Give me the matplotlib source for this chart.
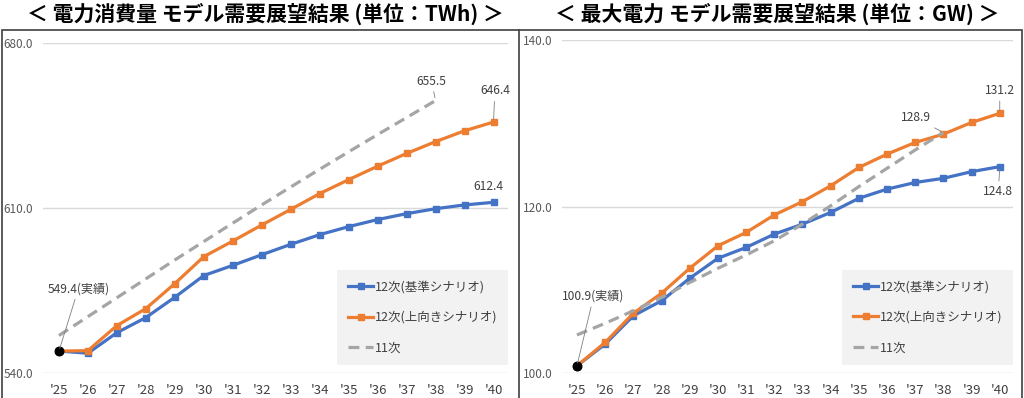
import matplotlib
matplotlib.use("Agg")
import matplotlib.pyplot as plt
from matplotlib.lines import Line2D
from matplotlib.patches import Rectangle

plt.rcParams['font.family'] = ['Noto Sans CJK JP', 'DejaVu Sans']

# ---------------- data ----------------
years = ["'25", "'26", "'27", "'28", "'29", "'30", "'31", "'32",
         "'33", "'34", "'35", "'36", "'37", "'38", "'39", "'40"]

# Electricity consumption (TWh)
cons_base = [549.4, 548.5, 557.2, 563.6, 572.2, 581.4, 585.7, 590.2,
             594.6, 598.7, 602.1, 605.1, 607.6, 609.7, 611.3, 612.4]
cons_up = [549.4, 549.6, 560.2, 567.4, 578.0, 589.4, 596.0, 602.8,
           609.4, 616.1, 622.0, 627.7, 633.1, 638.1, 642.7, 646.4]
cons_11th = [556.0, 564.0, 572.0, 580.0, 588.0, 595.8, 603.6, 611.3,
             618.9, 626.4, 633.8, 641.1, 648.3, 655.5]
cons_actual = 549.4

# Peak demand (GW)
peak_base = [100.9, 103.5, 106.9, 108.7, 111.4, 113.8, 115.1, 116.7,
             117.9, 119.3, 121.0, 122.1, 122.9, 123.4, 124.2, 124.8]
peak_up = [100.9, 103.7, 107.2, 109.6, 112.6, 115.3, 116.9, 119.0,
           120.6, 122.5, 124.7, 126.3, 127.7, 128.7, 130.1, 131.2]
peak_11th = [104.6, 106.0, 107.5, 109.1, 110.9, 112.6, 114.2, 115.9,
             117.9, 120.1, 122.4, 124.6, 126.8, 128.9]
peak_actual = 100.9

labels = ["12次(基準シナリオ)", "12次(上向きシナリオ)", "11次"]
titles = ["＜ 電力消費量 モデル需要展望結果 (単位：TWh) ＞",
          "＜ 最大電力 モデル需要展望結果 (単位：GW) ＞"]

BLUE = "#4472C4"
ORANGE = "#ED7D31"
GRAY = "#A5A5A5"
TXT = "#404040"

W, H = 1024, 398
fig = plt.figure(figsize=(W / 100, H / 100), dpi=100)
fig.patch.set_facecolor("white")


def px_ax(l, r, t, b):
    return [l / W, 1 - b / H, (r - l) / W, (b - t) / H]


ax1 = fig.add_axes(px_ax(43, 508, 42.7, 373.3))
ax2 = fig.add_axes(px_ax(562, 1013, 40, 373.3))


def draw(ax, base, up, old, actual, ylim, yticks, xl):
    x = list(range(len(years)))
    ax.plot(x, base, color=BLUE, lw=2.3, marker="s", ms=4.5, zorder=3,
            label=labels[0])
    ax.plot(x, up, color=ORANGE, lw=2.3, marker="s", ms=4.5, zorder=3,
            label=labels[1])
    ax.plot(x[:len(old)], old, color=GRAY, lw=2.3, ls=(0, (3.4, 2.0)),
            zorder=4, label=labels[2])
    ax.scatter([0], [actual], s=38, color="black", zorder=6)
    ax.set_xlim(*xl)
    ax.set_ylim(*ylim)
    ax.set_yticks(yticks)
    ax.set_yticklabels([f"{v:.1f}" for v in yticks], color="#595959",
                       fontsize=8.5)
    ax.set_xticks(x)
    ax.set_xticklabels(years, color=TXT, fontsize=9.5)
    ax.tick_params(axis="y", length=0, pad=7)
    ax.tick_params(axis="x", length=0, pad=8)
    for s in ax.spines.values():
        s.set_visible(False)
    ax.grid(axis="y", color="#D9D9D9", lw=1.0)
    ax.set_axisbelow(True)
    ax.set_facecolor("white")
    leg = ax.legend(loc="lower right", bbox_to_anchor=(1.0, 0.025),
                    fontsize=9, frameon=True, fancybox=False,
                    facecolor="#F2F2F2", edgecolor="none", framealpha=1,
                    handlelength=2.0, handletextpad=0.15, labelspacing=1.4,
                    borderpad=0.85, borderaxespad=0.0)
    for t in leg.get_texts():
        t.set_color(TXT)
    return x


def lab(ax, text, xy, off, leader=True):
    ax.annotate(text, xy=xy, xytext=off, textcoords="offset points",
                ha="center", va="center", fontsize=8.7, color=TXT, zorder=7,
                arrowprops=(dict(arrowstyle="-", color="#7F7F7F", lw=0.6,
                                 shrinkA=1, shrinkB=2) if leader else None))


x1 = draw(ax1, cons_base, cons_up, cons_11th, cons_actual, (540, 680),
          [540, 610, 680], (-0.55, 15.5))
x2 = draw(ax2, peak_base, peak_up, peak_11th, peak_actual, (100, 140),
          [100, 120, 140], (-0.53, 15.47))

lab(ax1, f"{cons_actual}(実績)", (0, cons_actual), (14, 45))
lab(ax1, f"{cons_11th[-1]}", (len(cons_11th) - 1, cons_11th[-1]), (-3, 14))
lab(ax1, f"{cons_up[-1]}", (15, cons_up[-1]), (1, 22.5))
lab(ax1, f"{cons_base[-1]}", (15, cons_base[-1]), (-4, 11.5), leader=False)

lab(ax2, f"{peak_actual}(実績)", (0, peak_actual), (12, 50))
lab(ax2, f"{peak_11th[-1]}", (len(peak_11th) - 1, peak_11th[-1]), (-20, 10.5))
lab(ax2, f"{peak_up[-1]}", (15, peak_up[-1]), (0, 16.5))
lab(ax2, f"{peak_base[-1]}", (15, peak_base[-1]), (-1, -18))

# titles
fig.text(265 / W, 1 - 14 / H, titles[0], ha="center", va="center",
         fontsize=15, fontweight="bold", color="black")
fig.text(777 / W, 1 - 14 / H, titles[1], ha="center", va="center",
         fontsize=15, fontweight="bold", color="black")

# frame
fig.add_artist(Rectangle((1.5 / W, -0.05), 1020.5 / W, 1 - 30 / H + 0.05,
                         transform=fig.transFigure, fill=False,
                         edgecolor="#404040", lw=1.2))
fig.add_artist(Line2D([519 / W, 519 / W], [-0.05, 1 - 30 / H],
                      transform=fig.transFigure, color="#404040", lw=1.2))

fig.savefig("out.png", dpi=100, facecolor="white")
